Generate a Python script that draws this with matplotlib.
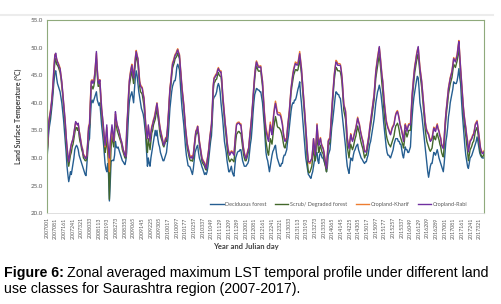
import numpy as np
import matplotlib
matplotlib.use("Agg")
import matplotlib.pyplot as plt
from matplotlib.lines import Line2D

# 8-day composites, 46 per year, 2007-2017
years = list(range(2007, 2018))
julian_days = list(range(1, 366, 8))

# Cropland-Rabi (top line)
rabi = [
    31.0, 33.5, 36.6, 37.5, 38.5, 39.9, 41.5, 43.8, 46.5, 48.6, 49.0, 48.0, 47.4, 47.0, 46.5, 46.2, 45.0, 43.8, 42.0, 40.2, 38.5, 36.5, 34.0, 32.0, 30.5, 29.3, 30.5, 31.7, 32.5, 33.0, 33.5, 34.5, 35.5, 36.6, 36.3, 36.0, 36.3, 35.0, 34.0, 33.0, 32.0, 31.5, 30.5, 30.3, 30.0, 29.9,
    30.5, 33.0, 35.5, 36.0, 40.0, 43.8, 44.0, 43.5, 43.8, 45.0, 47.0, 49.3, 46.0, 43.8, 43.5, 44.1, 41.5, 39.0, 37.5, 36.0, 34.0, 32.3, 34.0, 36.0, 33.0, 31.5, 30.0, 33.0, 34.5, 36.0, 34.5, 33.0, 35.5, 38.4, 37.0, 36.0, 35.5, 35.0, 34.2, 33.5, 33.0, 32.3, 31.5, 31.0, 30.5, 30.2,
    35.0, 37.8, 41.0, 43.8, 45.0, 46.0, 46.8, 45.5, 44.5, 46.2, 48.0, 49.3, 48.5, 48.0, 46.0, 43.8, 43.0, 42.8, 42.6, 41.5, 40.8, 38.5, 36.0, 34.5, 33.5, 36.0, 34.5, 33.0, 34.5, 35.5, 36.0, 36.8, 37.2, 38.0, 39.0, 39.9, 38.5, 37.2, 36.0, 35.0, 34.2, 33.5, 32.8, 32.3, 32.8, 33.5,
    33.5, 35.0, 37.2, 40.0, 42.5, 43.8, 45.5, 47.0, 47.4, 48.0, 48.6, 48.8, 49.2, 49.6, 49.0, 48.6, 46.5, 44.5, 42.5, 41.0, 39.6, 37.5, 35.4, 34.0, 32.5, 31.7, 31.0, 30.2, 30.0, 30.2, 29.9, 30.5, 32.0, 33.5, 34.8, 35.0, 35.7, 34.5, 33.0, 32.0, 31.0, 29.9, 29.5, 29.2, 29.0, 28.5,
    28.1, 29.5, 30.5, 31.7, 33.5, 34.8, 36.0, 39.0, 43.0, 44.4, 44.6, 45.0, 45.0, 45.8, 46.2, 45.8, 45.6, 45.6, 44.0, 41.4, 39.5, 37.8, 36.0, 34.8, 33.0, 31.7, 31.0, 30.5, 30.8, 31.1, 31.0, 30.8, 30.5, 32.5, 34.5, 36.0, 36.2, 36.3, 36.3, 36.0, 36.0, 34.5, 33.0, 31.7, 30.8, 30.2,
    29.9, 30.5, 31.2, 31.7, 33.5, 35.0, 36.6, 38.5, 40.8, 43.0, 45.0, 46.5, 47.4, 47.0, 46.5, 46.4, 46.5, 46.5, 45.0, 43.8, 41.0, 38.4, 36.5, 35.0, 34.2, 33.5, 33.0, 34.5, 36.0, 35.0, 34.2, 36.0, 37.8, 39.0, 39.9, 39.0, 38.0, 37.8, 37.8, 37.8, 37.5, 36.8, 36.0, 34.5, 33.5, 33.0,
    33.2, 33.5, 35.5, 37.0, 38.4, 40.5, 42.5, 43.8, 45.0, 45.9, 46.5, 47.1, 47.0, 46.8, 47.0, 48.0, 48.9, 47.5, 46.2, 44.0, 42.0, 40.0, 37.8, 35.5, 33.0, 31.0, 29.3, 29.3, 29.3, 29.6, 29.9, 31.5, 33.5, 32.0, 30.5, 33.0, 36.0, 34.0, 32.3, 33.0, 33.5, 32.5, 32.0, 31.7, 31.0, 29.9,
    29.0, 28.1, 30.5, 33.0, 33.3, 33.5, 36.0, 38.5, 40.8, 43.0, 45.0, 46.3, 47.4, 47.2, 46.8, 46.8, 46.8, 46.8, 45.8, 44.4, 42.0, 39.6, 39.0, 38.4, 36.0, 33.5, 32.5, 31.7, 33.0, 34.2, 33.5, 33.0, 33.5, 34.2, 34.8, 35.4, 36.3, 37.2, 36.5, 36.0, 35.0, 34.2, 33.5, 33.0, 32.0, 31.1,
    31.1, 31.1, 32.0, 33.0, 34.0, 35.5, 36.6, 37.8, 39.0, 40.2, 41.4, 43.5, 45.6, 46.8, 48.0, 49.0, 50.2, 48.5, 46.8, 45.0, 43.8, 41.5, 39.6, 38.0, 36.6, 36.0, 35.4, 35.0, 34.5, 34.2, 34.8, 35.4, 35.7, 36.0, 37.0, 37.8, 38.2, 38.4, 37.8, 37.0, 36.0, 35.5, 34.8, 34.0, 33.0, 34.5,
    36.0, 35.5, 34.8, 35.5, 36.0, 36.0, 36.0, 38.5, 41.4, 43.2, 45.0, 46.5, 47.4, 48.5, 49.3, 50.2, 48.0, 46.2, 45.0, 43.8, 42.0, 40.2, 38.5, 36.6, 35.5, 34.8, 34.5, 34.2, 33.5, 33.0, 33.2, 33.5, 34.5, 35.4, 35.0, 34.8, 35.5, 36.0, 35.2, 34.8, 34.0, 33.5, 32.3, 32.0, 31.7, 33.5,
    36.0, 38.0, 39.6, 41.0, 42.6, 43.5, 44.4, 45.0, 45.6, 46.8, 48.0, 47.7, 47.4, 48.0, 48.6, 50.0, 51.1, 48.5, 46.2, 44.0, 42.0, 39.5, 37.8, 36.5, 35.4, 34.0, 33.0, 31.1, 32.0, 33.0, 33.2, 33.5, 34.0, 34.2, 35.0, 36.0, 36.3, 36.6, 35.5, 34.2, 33.0, 31.7, 31.2, 30.8, 30.8, 31.1,
]

# Cropland-Kharif
kharif = [
    31.0, 33.5, 36.8, 37.8, 38.8, 40.0, 41.8, 44.0, 46.8, 48.8, 48.8, 48.0, 47.5, 47.2, 46.8, 46.3, 45.0, 43.8, 42.0, 40.0, 38.5, 36.5, 34.0, 32.0, 30.5, 29.5, 30.5, 31.5, 32.5, 33.0, 33.5, 34.5, 35.5, 36.5, 36.3, 36.0, 36.2, 35.0, 34.2, 33.2, 32.2, 31.7, 30.7, 30.5, 30.2, 30.0,
    30.5, 33.2, 35.8, 36.2, 40.5, 44.0, 44.2, 43.8, 44.0, 45.3, 47.2, 49.0, 46.2, 44.0, 43.8, 44.2, 41.8, 39.2, 37.5, 36.0, 34.0, 32.0, 33.5, 35.5, 32.5, 30.5, 27.5, 32.0, 34.0, 35.5, 34.2, 33.0, 35.2, 38.0, 36.8, 36.0, 35.5, 35.0, 34.2, 33.5, 33.0, 32.3, 31.5, 31.0, 30.5, 30.3,
    35.2, 38.0, 41.3, 44.0, 45.3, 46.3, 47.0, 45.8, 44.8, 46.5, 48.3, 49.5, 48.8, 48.0, 46.2, 44.0, 43.3, 43.0, 42.8, 41.8, 41.0, 38.8, 36.2, 34.5, 33.5, 35.8, 34.5, 33.2, 34.8, 35.8, 36.3, 37.0, 37.5, 38.3, 39.2, 40.0, 38.8, 37.5, 36.2, 35.2, 34.5, 33.8, 33.0, 32.5, 33.0, 33.7,
    33.7, 35.2, 37.5, 40.3, 42.8, 44.0, 45.8, 47.3, 47.7, 48.3, 48.8, 49.0, 49.5, 49.8, 49.2, 48.8, 46.8, 44.8, 42.8, 41.2, 39.8, 37.7, 35.6, 34.2, 32.7, 31.9, 31.2, 30.4, 30.2, 30.4, 30.1, 30.7, 32.2, 33.7, 35.0, 35.2, 35.8, 34.7, 33.2, 32.2, 31.2, 30.1, 29.7, 29.4, 29.2, 28.7,
    28.3, 29.7, 30.7, 31.9, 33.7, 35.0, 36.2, 39.2, 43.2, 44.6, 44.8, 45.2, 45.2, 46.0, 46.4, 46.0, 45.8, 45.8, 44.2, 41.6, 39.7, 38.0, 36.2, 35.0, 33.2, 31.9, 31.2, 30.7, 31.0, 31.3, 31.2, 31.0, 30.7, 32.7, 34.7, 36.2, 36.4, 36.5, 36.5, 36.2, 36.2, 34.7, 33.2, 31.9, 31.0, 30.4,
    30.1, 30.7, 31.4, 31.9, 33.7, 35.2, 36.8, 38.7, 41.0, 43.2, 45.2, 46.7, 47.6, 47.2, 46.7, 46.6, 46.7, 46.7, 45.2, 44.0, 41.3, 38.8, 37.0, 35.5, 34.8, 34.0, 33.5, 35.0, 36.5, 35.5, 34.8, 36.5, 38.2, 39.4, 40.3, 39.5, 38.5, 38.2, 38.2, 38.2, 37.9, 37.2, 36.3, 34.8, 33.8, 33.3,
    33.4, 33.7, 35.7, 37.2, 38.6, 40.7, 42.7, 44.0, 45.3, 46.2, 46.8, 47.4, 47.3, 47.1, 47.3, 48.3, 49.3, 47.8, 46.4, 44.2, 42.2, 40.2, 38.0, 35.7, 33.2, 31.0, 29.5, 29.0, 29.0, 29.5, 29.9, 31.5, 33.5, 32.2, 30.7, 33.2, 36.2, 34.2, 32.5, 33.2, 33.7, 32.7, 32.2, 31.9, 31.2, 30.1,
    29.2, 28.3, 30.7, 33.2, 33.5, 33.7, 36.3, 38.8, 41.1, 43.3, 45.3, 46.6, 47.7, 47.5, 47.1, 47.1, 47.1, 47.0, 46.0, 44.6, 42.2, 39.8, 39.2, 38.6, 36.2, 33.7, 32.7, 31.9, 33.2, 34.4, 33.7, 33.2, 33.7, 34.4, 35.0, 35.6, 36.5, 37.4, 36.7, 36.2, 35.2, 34.4, 33.7, 33.2, 32.2, 31.3,
    31.3, 31.3, 32.2, 33.2, 34.2, 35.7, 36.8, 38.0, 39.2, 40.4, 41.6, 43.8, 45.9, 47.1, 48.3, 49.3, 50.0, 48.8, 47.1, 45.3, 44.0, 41.8, 39.9, 38.3, 36.9, 36.2, 35.6, 35.2, 34.7, 34.4, 35.0, 35.6, 35.9, 36.2, 37.2, 38.0, 38.4, 38.6, 38.0, 37.2, 36.2, 35.7, 35.0, 34.2, 33.2, 34.7,
    36.2, 35.7, 35.0, 35.7, 36.2, 36.2, 36.2, 38.8, 41.7, 43.5, 45.3, 46.8, 47.7, 48.8, 49.6, 50.0, 48.3, 46.5, 45.3, 44.0, 42.2, 40.4, 38.7, 36.8, 35.7, 35.0, 34.7, 34.4, 33.7, 33.2, 33.4, 33.7, 34.7, 35.6, 35.2, 35.0, 35.7, 36.2, 35.4, 35.0, 34.2, 33.7, 32.5, 32.2, 31.9, 33.7,
    36.2, 38.2, 39.8, 41.2, 42.8, 43.7, 44.6, 45.2, 45.8, 47.0, 48.2, 47.9, 47.6, 48.2, 48.8, 50.2, 51.3, 48.7, 46.4, 44.2, 42.2, 39.7, 38.0, 36.7, 35.6, 34.2, 33.2, 31.3, 32.2, 33.2, 33.4, 33.7, 34.2, 34.4, 35.2, 36.2, 36.5, 36.8, 35.7, 34.4, 33.2, 31.9, 31.4, 31.0, 31.0, 31.3,
]

# Scrub/ Degraded forest
scrub = [
    30.5, 33.0, 36.0, 37.0, 38.0, 39.5, 41.0, 43.0, 45.5, 47.5, 48.0, 47.0, 46.8, 46.5, 46.0, 45.5, 44.5, 43.0, 41.5, 39.5, 37.5, 35.5, 33.0, 31.0, 29.5, 28.5, 29.5, 30.5, 31.0, 32.0, 32.5, 33.5, 34.5, 35.5, 35.5, 35.0, 35.5, 34.0, 33.0, 32.5, 31.5, 31.0, 30.0, 29.8, 29.5, 29.5,
    30.0, 32.5, 35.0, 35.5, 39.0, 43.0, 43.0, 42.5, 43.0, 44.0, 46.0, 48.0, 45.0, 43.0, 43.0, 43.5, 40.5, 38.0, 36.5, 35.0, 33.0, 31.0, 32.0, 34.0, 31.0, 29.0, 22.5, 28.0, 32.0, 34.0, 33.0, 32.0, 34.0, 37.0, 36.0, 35.0, 34.5, 34.0, 33.5, 33.0, 32.5, 31.5, 31.0, 30.5, 30.0, 30.0,
    34.0, 37.0, 40.0, 43.0, 44.0, 45.0, 45.8, 44.5, 43.5, 45.5, 47.0, 48.5, 48.0, 47.0, 45.0, 43.0, 42.0, 41.8, 41.5, 40.5, 39.5, 37.5, 35.0, 32.5, 31.0, 33.5, 32.5, 31.5, 33.0, 34.5, 35.0, 36.0, 36.5, 37.0, 38.0, 39.0, 37.5, 36.5, 35.0, 34.0, 33.5, 33.0, 32.3, 32.0, 32.5, 33.0,
    33.0, 34.5, 36.5, 39.5, 42.0, 43.0, 44.8, 46.3, 46.8, 47.3, 48.0, 48.2, 48.5, 49.0, 48.5, 48.0, 46.0, 44.0, 42.0, 40.5, 39.0, 37.0, 34.8, 33.3, 31.8, 31.0, 30.3, 29.7, 29.5, 29.6, 29.4, 30.0, 31.5, 33.0, 34.2, 34.5, 35.2, 34.0, 32.5, 31.5, 30.5, 29.4, 29.0, 28.8, 28.5, 28.0,
    27.8, 29.0, 30.0, 31.2, 33.0, 34.3, 35.5, 38.3, 42.2, 43.6, 43.8, 44.2, 44.3, 45.0, 45.5, 45.0, 44.8, 44.8, 43.2, 40.6, 38.7, 37.0, 35.2, 33.8, 32.0, 30.6, 29.8, 29.3, 29.5, 29.8, 29.7, 29.5, 29.3, 31.0, 33.0, 34.3, 34.5, 34.8, 34.8, 34.5, 34.5, 33.2, 31.8, 30.7, 30.0, 29.5,
    29.5, 30.0, 30.7, 31.2, 33.0, 34.5, 36.0, 38.0, 40.2, 42.3, 44.3, 45.8, 46.7, 46.3, 45.8, 45.7, 45.8, 45.8, 44.3, 43.0, 40.2, 37.5, 35.0, 33.0, 32.0, 31.0, 30.5, 32.0, 33.5, 33.0, 32.5, 34.0, 35.5, 36.5, 37.5, 36.8, 35.8, 35.5, 35.5, 35.3, 35.0, 34.5, 33.8, 32.8, 32.0, 31.8,
    32.5, 33.0, 35.0, 36.3, 37.7, 39.8, 41.8, 43.0, 44.0, 45.0, 45.5, 46.0, 46.0, 45.8, 46.0, 47.0, 47.8, 46.5, 45.3, 43.0, 41.0, 39.0, 36.8, 34.5, 31.5, 29.0, 27.5, 27.3, 27.5, 28.0, 28.5, 30.0, 32.0, 30.5, 29.5, 31.5, 34.5, 32.5, 31.0, 31.8, 32.3, 31.5, 31.0, 30.8, 30.0, 29.0,
    28.3, 27.5, 29.8, 32.2, 32.5, 32.8, 35.2, 37.7, 40.0, 42.2, 44.2, 45.5, 46.4, 46.2, 45.8, 45.8, 45.8, 45.6, 44.8, 43.4, 41.0, 38.6, 37.8, 37.0, 34.5, 32.0, 31.0, 30.0, 31.5, 32.5, 32.0, 31.5, 32.0, 32.8, 33.5, 34.0, 35.0, 35.8, 35.0, 34.5, 33.5, 32.8, 32.2, 31.7, 30.8, 30.0,
    30.5, 30.5, 31.4, 32.3, 33.3, 34.8, 35.8, 37.0, 38.2, 39.3, 40.5, 42.5, 44.5, 45.6, 46.8, 47.8, 48.8, 47.2, 45.5, 43.5, 42.0, 39.5, 37.5, 35.8, 34.3, 33.5, 33.0, 32.5, 32.3, 32.0, 32.5, 33.0, 33.5, 34.0, 35.0, 35.8, 36.0, 36.3, 35.8, 35.0, 34.0, 33.5, 33.0, 32.5, 31.8, 33.0,
    35.0, 34.5, 33.8, 34.3, 35.0, 35.0, 35.0, 37.5, 40.5, 42.3, 44.0, 45.5, 46.5, 47.5, 48.2, 48.8, 47.0, 45.3, 44.0, 42.8, 41.0, 39.0, 37.2, 35.3, 34.0, 33.0, 32.5, 32.0, 31.5, 31.2, 31.5, 31.8, 33.0, 34.0, 33.5, 33.3, 34.0, 34.5, 33.8, 33.3, 32.5, 32.0, 31.0, 30.5, 30.2, 32.0,
    35.0, 37.0, 38.7, 40.0, 41.6, 42.5, 43.4, 44.0, 44.6, 45.8, 47.0, 46.7, 46.4, 47.0, 47.6, 48.8, 49.8, 47.5, 45.2, 43.0, 41.0, 38.5, 36.8, 35.3, 34.0, 32.5, 31.2, 29.5, 30.5, 31.5, 31.8, 32.2, 32.8, 33.0, 33.8, 34.8, 35.2, 35.5, 34.5, 33.2, 32.0, 30.8, 30.4, 30.2, 30.3, 30.7,
]

# Deciduous forest (lowest line)
deciduous = [
    30.0, 32.5, 35.0, 36.0, 37.0, 38.5, 40.0, 42.0, 44.0, 45.5, 45.8, 44.5, 43.5, 43.0, 42.5, 42.0, 41.0, 40.0, 38.5, 37.0, 35.0, 33.0, 31.0, 28.5, 27.0, 25.7, 26.5, 27.5, 27.0, 28.0, 29.0, 30.0, 31.5, 32.0, 32.3, 32.0, 31.5, 30.5, 30.0, 29.5, 29.0, 28.5, 28.0, 27.5, 27.0, 26.8,
    29.0, 31.0, 33.0, 33.5, 37.0, 40.0, 40.5, 40.0, 40.5, 41.0, 41.5, 42.0, 40.5, 40.0, 39.5, 40.0, 38.0, 36.0, 34.5, 33.0, 31.0, 29.0, 28.0, 27.5, 29.0, 27.0, 22.2, 25.5, 29.5, 29.5, 29.6, 29.5, 30.5, 33.0, 32.0, 31.8, 32.0, 31.5, 31.0, 30.5, 30.0, 29.5, 29.3, 29.0, 28.8, 29.5,
    31.0, 34.0, 37.5, 40.0, 41.0, 41.5, 42.0, 41.0, 40.0, 42.5, 44.5, 45.8, 45.0, 43.5, 42.0, 41.0, 40.0, 39.0, 38.5, 38.0, 37.0, 35.5, 34.0, 31.0, 28.5, 30.0, 29.0, 28.5, 30.0, 31.0, 32.0, 33.0, 34.0, 35.0, 34.0, 35.0, 33.5, 32.5, 32.0, 31.0, 30.5, 30.0, 29.5, 29.5, 30.0, 30.5,
    31.0, 32.5, 34.0, 36.5, 39.0, 40.5, 42.0, 43.0, 43.5, 44.0, 44.0, 45.0, 46.5, 47.0, 46.5, 46.0, 43.5, 41.0, 39.0, 37.5, 36.0, 34.0, 32.0, 30.5, 29.5, 28.6, 28.5, 28.4, 28.0, 27.5, 27.0, 28.0, 29.5, 31.0, 31.5, 32.0, 32.3, 31.0, 30.0, 29.5, 29.0, 28.4, 28.0, 27.5, 27.0, 27.3,
    27.0, 27.5, 28.5, 30.0, 31.5, 33.0, 34.0, 37.0, 40.5, 41.0, 41.2, 41.5, 42.0, 43.0, 43.5, 43.0, 42.0, 40.0, 38.5, 37.0, 35.0, 33.0, 32.0, 31.0, 29.5, 28.5, 27.5, 27.5, 28.0, 28.5, 27.5, 27.0, 26.7, 28.5, 30.0, 30.5, 31.0, 31.2, 31.2, 31.5, 31.5, 30.5, 29.5, 29.0, 28.5, 28.5,
    28.5, 28.8, 29.0, 29.5, 31.0, 32.5, 33.5, 35.5, 38.0, 40.0, 41.5, 42.0, 42.6, 42.5, 42.3, 42.3, 42.0, 42.0, 41.0, 40.0, 38.0, 36.0, 33.5, 31.0, 30.0, 29.5, 28.5, 27.5, 28.5, 29.5, 30.5, 31.2, 31.5, 32.0, 32.3, 31.0, 30.0, 29.5, 29.0, 28.5, 28.5, 29.0, 29.0, 30.0, 30.5, 30.5,
    31.0, 31.5, 33.0, 34.0, 35.5, 37.0, 38.5, 39.5, 40.0, 39.9, 40.5, 40.5, 41.0, 41.8, 42.5, 43.0, 43.8, 41.5, 40.0, 38.0, 36.0, 34.0, 32.0, 30.0, 29.0, 28.0, 27.0, 26.8, 26.5, 26.3, 27.0, 27.5, 28.5, 29.5, 29.5, 31.0, 31.0, 29.5, 29.0, 30.5, 31.0, 30.5, 30.0, 30.0, 29.5, 29.0,
    28.5, 27.5, 28.5, 30.5, 31.0, 31.5, 33.5, 35.5, 36.6, 38.0, 39.5, 41.0, 42.0, 41.8, 41.5, 41.5, 41.0, 40.8, 39.5, 38.0, 36.5, 35.0, 33.5, 32.0, 30.0, 28.5, 27.8, 27.2, 28.5, 30.0, 29.8, 29.5, 30.5, 31.2, 31.5, 32.0, 32.3, 32.5, 31.5, 31.0, 30.5, 30.0, 29.8, 29.5, 29.2, 29.0,
    29.3, 29.3, 30.0, 30.5, 31.5, 32.5, 33.0, 34.0, 35.0, 36.0, 37.0, 38.5, 40.0, 41.0, 42.0, 42.5, 43.2, 42.5, 41.5, 40.0, 38.5, 36.5, 35.0, 33.5, 32.0, 31.0, 30.5, 30.5, 30.2, 30.0, 30.5, 31.0, 31.5, 32.5, 33.0, 33.5, 33.5, 33.5, 33.0, 33.0, 32.5, 32.5, 31.5, 30.5, 30.0, 31.0,
    32.0, 31.5, 31.5, 31.0, 31.0, 31.5, 32.0, 35.0, 37.5, 39.5, 41.0, 42.0, 43.0, 44.0, 44.8, 44.5, 42.5, 40.0, 39.0, 38.0, 36.5, 35.0, 33.5, 32.0, 30.5, 29.0, 27.5, 26.5, 27.5, 28.5, 29.0, 29.0, 30.0, 31.0, 30.8, 30.5, 31.0, 31.5, 30.8, 30.0, 29.5, 29.0, 28.5, 28.0, 27.5, 29.0,
    31.0, 33.0, 34.0, 35.5, 37.5, 38.5, 40.0, 40.8, 41.5, 42.5, 43.8, 43.6, 43.5, 43.5, 44.0, 45.0, 46.2, 44.5, 43.5, 40.5, 38.0, 36.0, 34.0, 32.0, 30.5, 29.5, 28.5, 28.1, 29.0, 30.0, 30.2, 30.5, 31.0, 31.5, 32.0, 32.5, 33.0, 33.8, 33.0, 32.0, 31.0, 30.5, 30.2, 30.0, 30.0, 30.0,
]

series = [
    ("Deciduous forest", deciduous, "#255e91"),
    ("Scrub/ Degraded forest", scrub, "#43682b"),
    ("Cropland-Kharif", kharif, "#ed7d31"),
    ("Cropland-Rabi", rabi, "#7030a0"),
]

# tick label for every 10th composite, e.g. 2007001
dates = [f"{y}{d:03d}" for y in years for d in julian_days]

plt.rcParams['font.family'] = ['Lato', 'DejaVu Sans']

fig = plt.figure(figsize=(5.01, 3.04), dpi=100)
ax = fig.add_axes([0.094, 0.299, 0.872, 0.635])

for name, vals, col in series:
    ax.plot(np.arange(len(vals)), vals, color=col, lw=1.0, label=name)

ax.set_xlim(0, len(dates) - 1)
ax.set_ylim(20, 55)
ax.set_yticks(np.arange(20, 56, 5))
ax.set_yticklabels([f"{v:.1f}" for v in np.arange(20, 56, 5)])
ax.set_xticks(range(0, len(dates), 10))
ax.set_xticklabels(dates[::10], rotation=90)
ax.tick_params(axis='both', length=0, colors='#595959')
ax.tick_params(axis='y', labelsize=4.5, pad=3)
ax.tick_params(axis='x', labelsize=3.8, pad=3)

for side in ['left', 'top', 'right']:
    ax.spines[side].set_color('#8faa7c')
    ax.spines[side].set_linewidth(0.8)
ax.spines['bottom'].set_color('#d9d9d9')
ax.spines['bottom'].set_linewidth(0.6)

ax.set_ylabel("Land Surface Temperature (°C)", fontsize=5, color='#404040',
              fontweight='bold', labelpad=6)
fig.text(0.49, 0.188, "Year and Julian day", fontsize=5.5, color='#404040',
         fontweight='bold', ha='center', va='center')

leg = ax.legend(loc='center', bbox_to_anchor=(0.668, 0.045), ncol=4, frameon=False,
                fontsize=4.0, handlelength=2.4, handletextpad=0.3, columnspacing=1.5)
for t in leg.get_texts():
    t.set_color('#595959')

# light border at top of the chart area
fig.add_artist(Line2D([0.0, 0.985], [0.951, 0.951], color='#ececec', lw=1.5))

# caption
cap_font = ['Liberation Sans', 'DejaVu Sans']
cap_size = 10.2
t1 = fig.text(0.008, 0.089, "Figure 6:", fontsize=cap_size, fontweight='bold',
              family=cap_font, va='baseline', color='black')
fig.canvas.draw()
bb = t1.get_window_extent(fig.canvas.get_renderer())
x1 = bb.x1 / fig.bbox.width
fig.text(x1 + 0.007, 0.089, "Zonal averaged maximum LST temporal profile under different land",
         fontsize=cap_size, family=cap_font, va='baseline', color='black')
fig.text(0.008, 0.036, "use classes for Saurashtra region (2007-2017).",
         fontsize=cap_size, family=cap_font, va='baseline', color='black')

fig.savefig("out.png", dpi=100)
